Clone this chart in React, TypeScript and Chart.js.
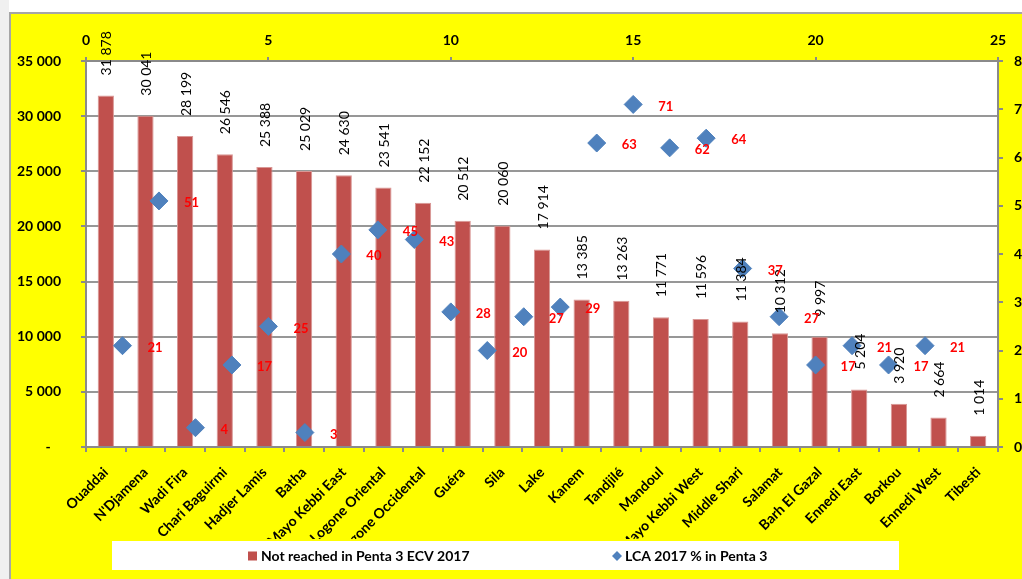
import React, { useEffect, useRef } from 'react';
import { Chart, registerables } from 'chart.js';

Chart.register(...registerables);

// Regions of Chad, ordered by number of children not reached
const regions = [
  'Ouaddai', "N'Djamena", 'Wadi Fira', 'Chari Baguirmi', 'Hadjer Lamis', 'Batha',
  'Mayo Kebbi East', 'Logone Oriental', 'Logone Occidental', 'Guéra', 'Sila', 'Lake',
  'Kanem', 'Tandjilé', 'Mandoul', 'Mayo Kebbi West', 'Middle Shari', 'Salamat',
  'Barh El Gazal', 'Ennedi East', 'Borkou', 'Ennedi West', 'Tibesti',
];

// Children not reached with Penta 3 (ECV 2017)
const notReached = [
  31878, 30041, 28199, 26546, 25388, 25029, 24630, 23541, 22152, 20512, 20060, 17914,
  13385, 13263, 11771, 11596, 11384, 10312, 9997, 5204, 3920, 2664, 1014,
];

// LCA 2017 coverage, % in Penta 3 (plotted against point index 1..n)
const lcaPct = [21, 51, 4, 17, 25, 3, 40, 45, 43, 28, 20, 27, 29, 63, 71, 62, 64, 37, 27, 17, 21, 17, 21];

const barLabel = 'Not reached in Penta 3 ECV 2017';
const pointLabel = 'LCA 2017 % in Penta 3';

const FONT = 'Lato, "Open Sans", sans-serif';
const BAR_COLOR = '#C0504D';
const POINT_COLOR = '#4F81BD';
const GRID = '#979797';
const AXIS = '#8a8a8a';

const fmt = (n: number) => String(Math.round(n)).replace(/\B(?=(\d{3})+(?!\d))/g, ' ');

const framePlugin = {
  id: 'frame',
  beforeDraw(chart: any) {
    const { ctx, width, height, chartArea } = chart;
    ctx.save();
    ctx.fillStyle = '#ffffff';
    ctx.fillRect(0, 0, width, height);
    ctx.fillStyle = '#f0f0f0';
    ctx.fillRect(0, 0, 9, height);
    ctx.fillStyle = '#a6a6a6';
    ctx.fillRect(9, 12, 2, height - 12);
    ctx.fillRect(9, 12, width - 9, 2);
    ctx.fillStyle = '#ffff00';
    ctx.fillRect(11, 14, width - 11, height - 14);
    ctx.fillStyle = '#ffffff';
    ctx.fillRect(chartArea.left, chartArea.top, chartArea.right - chartArea.left, chartArea.bottom - chartArea.top);
    ctx.restore();
  },
};

const labelsPlugin = {
  id: 'valueLabels',
  afterDatasetsDraw(chart: any) {
    const { ctx } = chart;
    ctx.save();
    // bar values, rotated, above each bar
    const bars = chart.getDatasetMeta(0).data;
    ctx.fillStyle = '#000000';
    ctx.font = `14px ${FONT}`;
    ctx.textAlign = 'left';
    ctx.textBaseline = 'middle';
    bars.forEach((bar: any, i: number) => {
      ctx.save();
      ctx.translate(bar.x + 1, bar.y - 20);
      ctx.rotate(-Math.PI / 2);
      ctx.fillText(fmt(notReached[i]), 0, 0);
      ctx.restore();
    });
    // percentage labels to the right of each point
    const pts = chart.getDatasetMeta(1).data;
    ctx.fillStyle = '#ff0000';
    ctx.font = `bold 13px ${FONT}`;
    ctx.textAlign = 'left';
    ctx.textBaseline = 'middle';
    pts.forEach((p: any, i: number) => {
      ctx.fillText(String(lcaPct[i]), p.x + 25, p.y + 2);
    });
    ctx.restore();
  },
  afterDraw(chart: any) {
    const { ctx } = chart;
    ctx.save();
    ctx.fillStyle = '#ffffff';
    ctx.fillRect(112, 541, 787, 29);
    const cy = 556;
    ctx.font = `bold 14px ${FONT}`;
    ctx.textAlign = 'left';
    ctx.textBaseline = 'middle';
    ctx.fillStyle = chart.data.datasets[0].backgroundColor;
    ctx.fillRect(248, cy - 4.5, 9, 9);
    ctx.fillStyle = '#000000';
    ctx.fillText(chart.data.datasets[0].label, 261, cy);
    ctx.fillStyle = chart.data.datasets[1].backgroundColor;
    ctx.beginPath();
    ctx.moveTo(617, cy - 5);
    ctx.lineTo(622, cy);
    ctx.lineTo(617, cy + 5);
    ctx.lineTo(612, cy);
    ctx.closePath();
    ctx.fill();
    ctx.fillStyle = '#000000';
    ctx.fillText(chart.data.datasets[1].label, 625, cy);
    ctx.restore();
  },
};

export default function App() {
  const canvasRef = useRef<HTMLCanvasElement | null>(null);

  useEffect(() => {
    if (!canvasRef.current) return;
    const tickFont = { family: FONT, size: 14, weight: 'bold' as const };
    const chart = new Chart(canvasRef.current, {
      type: 'bar',
      data: {
        labels: regions,
        datasets: [
          {
            type: 'bar',
            label: barLabel,
            data: notReached,
            backgroundColor: BAR_COLOR,
            borderColor: '#d99795',
            borderWidth: 1,
            grouped: false,
            barPercentage: 0.41,
            categoryPercentage: 1,
            xAxisID: 'x',
            yAxisID: 'y',
            order: 1,
          } as any,
          {
            type: 'scatter',
            label: pointLabel,
            data: lcaPct.map((v, i) => ({ x: i + 1, y: v })),
            backgroundColor: POINT_COLOR,
            borderColor: POINT_COLOR,
            borderWidth: 1,
            pointStyle: 'rectRot',
            pointRadius: 9,
            xAxisID: 'x2',
            yAxisID: 'y2',
            order: 0,
          } as any,
        ],
      },
      options: {
        responsive: false,
        devicePixelRatio: 1,
        animation: false,
        layout: { padding: { left: 0, right: 0, top: 0, bottom: 40 } },
        plugins: {
          legend: { display: false },
          tooltip: { enabled: false },
        },
        scales: {
          x: {
            type: 'category',
            position: 'bottom',
            offset: true,
            grid: { display: true, drawOnChartArea: false, offset: true, tickLength: 5, color: AXIS, lineWidth: 2 },
            border: { display: true, color: AXIS, width: 2 },
            ticks: { font: tickFont, color: '#000', minRotation: 45, maxRotation: 45, autoSkip: false, padding: 12 },
            afterFit: (s: any) => { s.height = 92; },
          },
          x2: {
            type: 'linear',
            position: 'top',
            min: 0,
            max: 25,
            offset: false,
            grid: { display: true, drawOnChartArea: false, offset: false, tickLength: 4, color: AXIS, lineWidth: 2 },
            border: { display: true, color: AXIS, width: 2 },
            ticks: { font: tickFont, color: '#000', stepSize: 5, padding: 8 },
            afterFit: (s: any) => { s.height = 61; },
          },
          y: {
            type: 'linear',
            position: 'left',
            min: 0,
            max: 35000,
            grid: { display: true, color: GRID, lineWidth: 2, tickLength: 5, tickColor: AXIS },
            border: { display: true, color: AXIS, width: 2 },
            ticks: {
              font: tickFont,
              color: '#000',
              stepSize: 5000,
              padding: 20,
              callback: (v: any) => (Number(v) === 0 ? '-   ' : fmt(Number(v))),
            },
            afterFit: (s: any) => { s.width = 86; },
          },
          y2: {
            type: 'linear',
            position: 'right',
            min: 0,
            max: 80,
            grid: { display: true, drawOnChartArea: false, tickLength: 5, color: AXIS, lineWidth: 2 },
            border: { display: true, color: AXIS, width: 2 },
            ticks: {
              font: tickFont,
              color: '#000',
              stepSize: 10,
              padding: 11,
              callback: (v: any) => String(Number(v) / 10),
            },
            afterFit: (s: any) => { s.width = 24; },
          },
        },
      } as any,
      plugins: [framePlugin, labelsPlugin],
    });
    return () => chart.destroy();
  }, []);

  return (
    <div style={{ position: 'fixed', left: 0, top: 0, width: 1022, height: 579, overflow: 'hidden' }}>
      <canvas ref={canvasRef} width={1022} height={579} style={{ display: 'block', width: 1022, height: 579 }} />
    </div>
  );
}
